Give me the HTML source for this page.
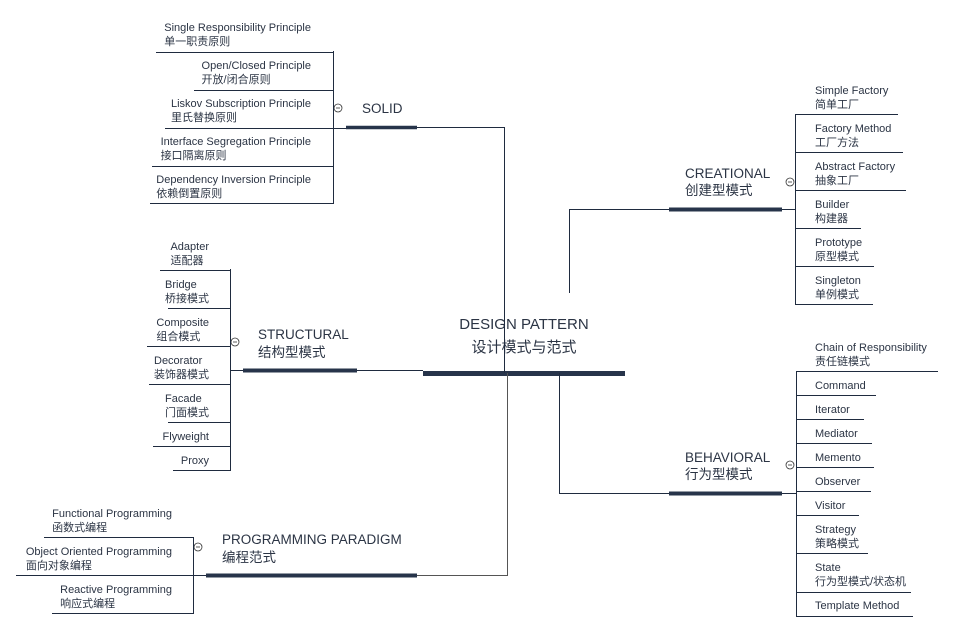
<!DOCTYPE html>
<html><head><meta charset="utf-8"><style>
html,body{margin:0;padding:0;background:#fff;}
body{position:relative;width:954px;height:631px;overflow:hidden;}
svg{display:block;font-family:"Liberation Sans","Noto Sans CJK SC",sans-serif;}
.i{font-size:11px;fill:#2b3444;}
.t{font-size:13.5px;fill:#2b3444;}
.c{font-size:15px;fill:#2b3444;}
.l{stroke:#1f2b3f;stroke-width:1;fill:none;}
.b{stroke:#27344a;stroke-width:4;}
.cir{fill:#fff;stroke:#333;stroke-width:0.8;}
.h{position:absolute;font-family:"Liberation Sans","Noto Sans CJK SC",sans-serif;font-size:11px;line-height:14px;color:#2b3444;text-align:left;white-space:nowrap;}
</style></head><body>
<svg width="954" height="631" viewBox="0 0 954 631">
<line class="b" x1="423" y1="373.5" x2="625" y2="373.5" style="stroke-width:5"/>
<text class="c" x="524" y="329" text-anchor="middle">DESIGN PATTERN</text>
<text class="c" x="524" y="352" text-anchor="middle">设计模式与范式</text>
<path class="l" d="M504.5 373 V127.5 H417"/>
<path class="l" d="M569.5 293 V209.5 H669"/>
<path class="l" d="M559.5 373 V493.5 H669"/>
<path class="l" d="M507.5 373 V575.5 H417" style="stroke:#555"/>
<path class="l" d="M423 370.5 H357"/>

<line class="b" x1="346" y1="127.5" x2="417" y2="127.5" style="stroke-width:3.5"/>
<text class="t" x="362" y="113">SOLID</text>
<circle class="cir" cx="338" cy="108" r="4"/><line x1="336" y1="108" x2="340" y2="108" stroke="#333" stroke-width="0.8"/>
<path class="l" d="M333.5 51 V203.5 H150 M333.5 52.5 H156 M333.5 90.5 H194 M333.5 128.5 H165 M333.5 166.5 H152 M333 128.5 H346"/>

<line class="b" x1="669" y1="209.5" x2="782" y2="209.5"/>
<text class="t" x="685" y="178">CREATIONAL</text>
<text class="t" x="685" y="195">创建型模式</text>
<circle class="cir" cx="790" cy="182" r="4"/><line x1="788" y1="182" x2="792" y2="182" stroke="#333" stroke-width="0.8"/>
<path class="l" d="M782 209.5 H795.5 M795.5 114 V304.5 H873 M795.5 114.5 H898 M795.5 152.5 H903 M795.5 190.5 H906 M795.5 228.5 H861 M795.5 266.5 H874"/>
<g class="i">
<text x="815" y="94">Simple Factory</text><text x="815" y="108">简单工厂</text>
<text x="815" y="132">Factory Method</text><text x="815" y="146">工厂方法</text>
<text x="815" y="170">Abstract Factory</text><text x="815" y="184">抽象工厂</text>
<text x="815" y="208">Builder</text><text x="815" y="222">构建器</text>
<text x="815" y="246">Prototype</text><text x="815" y="260">原型模式</text>
<text x="815" y="284">Singleton</text><text x="815" y="298">单例模式</text>
</g>

<line class="b" x1="669" y1="493.5" x2="782" y2="493.5"/>
<text class="t" x="685" y="462">BEHAVIORAL</text>
<text class="t" x="685" y="479">行为型模式</text>
<circle class="cir" cx="790" cy="465" r="4"/><line x1="788" y1="465" x2="792" y2="465" stroke="#333" stroke-width="0.8"/>
<path class="l" d="M782 493.5 H796.5 M796.5 371 V616.5 H913 M796.5 371.5 H938 M796.5 395.5 H876 M796.5 419.5 H864 M796.5 443.5 H872 M796.5 467.5 H874 M796.5 491.5 H871 M796.5 515.5 H859 M796.5 553.5 H868 M796.5 592.5 H911"/>
<g class="i">
<text x="815" y="351">Chain of Responsibility</text><text x="815" y="365">责任链模式</text>
<text x="815" y="389">Command</text>
<text x="815" y="413">Iterator</text>
<text x="815" y="437">Mediator</text>
<text x="815" y="461">Memento</text>
<text x="815" y="485">Observer</text>
<text x="815" y="509">Visitor</text>
<text x="815" y="533">Strategy</text><text x="815" y="547">策略模式</text>
<text x="815" y="571">State</text><text x="815" y="585">行为型模式/状态机</text>
<text x="815" y="609">Template Method</text>
</g>

<line class="b" x1="243" y1="370.5" x2="357" y2="370.5"/>
<text class="t" x="258" y="339">STRUCTURAL</text>
<text class="t" x="258" y="357">结构型模式</text>
<circle class="cir" cx="235" cy="342" r="4"/><line x1="233" y1="342" x2="237" y2="342" stroke="#333" stroke-width="0.8"/>
<path class="l" d="M243 370.5 H230.5 M230.5 269 V470.5 H173 M230.5 270.5 H160 M230.5 308.5 H168 M230.5 346.5 H147 M230.5 384.5 H149 M230.5 422.5 H168 M230.5 446.5 H153"/>

<line class="b" x1="206" y1="575.5" x2="417" y2="575.5"/>
<text class="t" x="222" y="544">PROGRAMMING PARADIGM</text>
<text class="t" x="222" y="562">编程范式</text>
<circle class="cir" cx="198" cy="547" r="4"/><line x1="196" y1="547" x2="200" y2="547" stroke="#333" stroke-width="0.8"/>
<path class="l" d="M206 575.5 H193.5 M193.5 537 V613.5 H52 M193.5 537.5 H44 M193.5 575.5 H16"/>
</svg>

<div class="h" style="right:643px;top:21px">Single Responsibility Principle<br>单一职责原则</div>
<div class="h" style="right:643px;top:59px">Open/Closed Principle<br>开放/闭合原则</div>
<div class="h" style="right:643px;top:97px">Liskov Subscription Principle<br>里氏替换原则</div>
<div class="h" style="right:643px;top:135px">Interface Segregation Principle<br>接口隔离原则</div>
<div class="h" style="right:643px;top:173px">Dependency Inversion Principle<br>依赖倒置原则</div>

<div class="h" style="right:745px;top:240px">Adapter<br>适配器</div>
<div class="h" style="right:745px;top:278px">Bridge<br>桥接模式</div>
<div class="h" style="right:745px;top:316px">Composite<br>组合模式</div>
<div class="h" style="right:745px;top:354px">Decorator<br>装饰器模式</div>
<div class="h" style="right:745px;top:392px">Facade<br>门面模式</div>
<div class="h" style="right:745px;top:430px">Flyweight</div>
<div class="h" style="right:745px;top:454px">Proxy</div>

<div class="h" style="right:782px;top:507px">Functional Programming<br>函数式编程</div>
<div class="h" style="right:782px;top:545px">Object Oriented Programming<br>面向对象编程</div>
<div class="h" style="right:782px;top:583px">Reactive Programming<br>响应式编程</div>
</body></html>
